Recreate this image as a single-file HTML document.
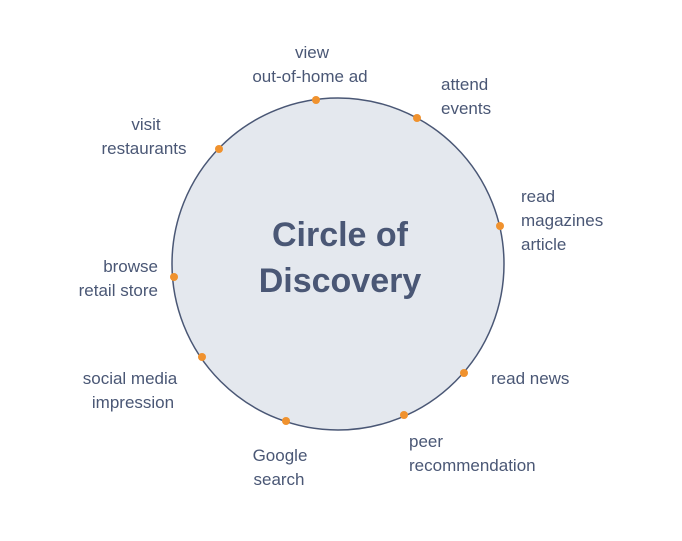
<!DOCTYPE html>
<html><head><meta charset="utf-8"><style>
html,body{margin:0;padding:0;background:#fff;}
svg{display:block;}
text{font-family:"Liberation Sans",sans-serif;fill:#4a5775;font-size:17px;}
</style></head><body>
<svg width="682" height="541" viewBox="0 0 682 541">
<circle cx="338" cy="264" r="166" fill="#e4e8ee" stroke="#4a5775" stroke-width="1.5"/>
<text x="340" y="246" text-anchor="middle" style="font-size:34px;font-weight:bold">Circle of</text>
<text x="340" y="292" text-anchor="middle" style="font-size:34px;font-weight:bold">Discovery</text>
<g fill="#f0922e">
<circle cx="316" cy="100" r="4"/><circle cx="417" cy="118" r="4"/><circle cx="500" cy="226" r="4"/>
<circle cx="464" cy="373" r="4"/><circle cx="404" cy="415" r="4"/><circle cx="286" cy="421" r="4"/>
<circle cx="202" cy="357" r="4"/><circle cx="174" cy="277" r="4"/><circle cx="219" cy="149" r="4"/>
</g>
<text x="312" y="58" text-anchor="middle">view</text>
<text x="310" y="82" text-anchor="middle">out-of-home ad</text>
<text x="441" y="90">attend</text>
<text x="441" y="114">events</text>
<text x="521" y="202">read</text>
<text x="521" y="226">magazines</text>
<text x="521" y="250">article</text>
<text x="491" y="384">read news</text>
<text x="409" y="447">peer</text>
<text x="409" y="471">recommendation</text>
<text x="280" y="461" text-anchor="middle">Google</text>
<text x="279" y="485" text-anchor="middle">search</text>
<text x="130" y="384" text-anchor="middle">social media</text>
<text x="133" y="408" text-anchor="middle">impression</text>
<text x="158" y="272" text-anchor="end">browse</text>
<text x="158" y="296" text-anchor="end">retail store</text>
<text x="146" y="130" text-anchor="middle">visit</text>
<text x="144" y="154" text-anchor="middle">restaurants</text>
</svg>
</body></html>
